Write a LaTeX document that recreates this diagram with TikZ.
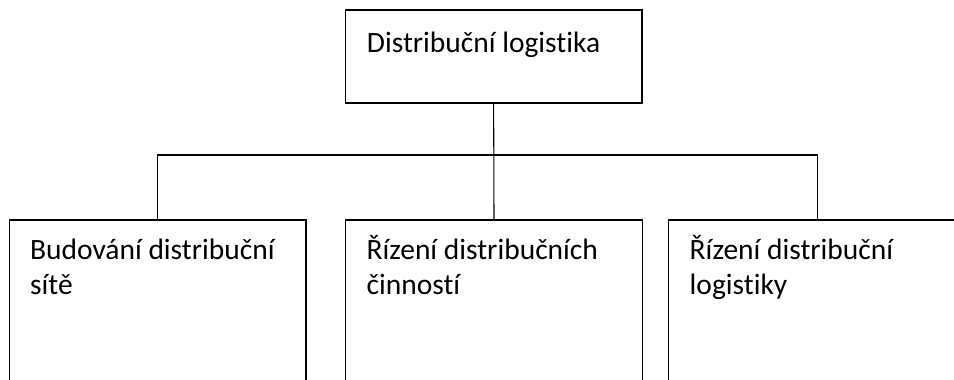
\documentclass[tikz,border=0pt]{standalone}
\usepackage{fontspec}
\setmainfont{Carlito}[Ligatures=NoCommon]
\usetikzlibrary{positioning}

\begin{document}
\begin{tikzpicture}[
      box/.style={draw=black, line width=0.8pt, minimum width=7.85cm},
      topbox/.style={box, minimum height=2.46cm},
      subbox/.style={box, minimum height=5.3cm},
      boxtext/.style={inner sep=0pt, align=left,
                      font=\fontsize{22.2pt}{26.3pt}\selectfont},
      link/.style={draw=black, line width=0.8pt}]
    \clip (0,0) rectangle (25.24,-10.05);

    % root of the tree
    \node[topbox] (distlog) at (13.06,-1.495) {};
    \node[boxtext, below right=0.49cm and 0.58cm of distlog.north west]
      (distlogtxt) {\vphantom{Ř}Distribuční logistika};

    % three branches, bottoms run off the page
    \node[subbox] (budovani) at (4.17,-8.47) {};
    \node[subbox] (cinnosti) at (13.07,-8.47) {};
    \node[subbox] (rizeni)   at (21.62,-8.47) {};
    \node[boxtext, below right=0.41cm and 0.56cm of budovani.north west]
      (budovanitxt) {\vphantom{Ř}Budování distribuční\\sítě};
    \node[boxtext, below right=0.41cm and 0.56cm of cinnosti.north west]
      (cinnostitxt) {Řízení distribučních\\činností};
    \node[boxtext, below right=0.41cm and 0.56cm of rizeni.north west]
      (rizenitxt) {Řízení distribuční\\logistiky};

    % connecting lines
    \coordinate (bus) at (0,-4.10);
    \draw[link] (distlog.south) -- (cinnosti.north);
    \draw[link] (budovani.north) -- (budovani.north |- bus)
                -| (rizeni.north);
  \end{tikzpicture}
\end{document}
